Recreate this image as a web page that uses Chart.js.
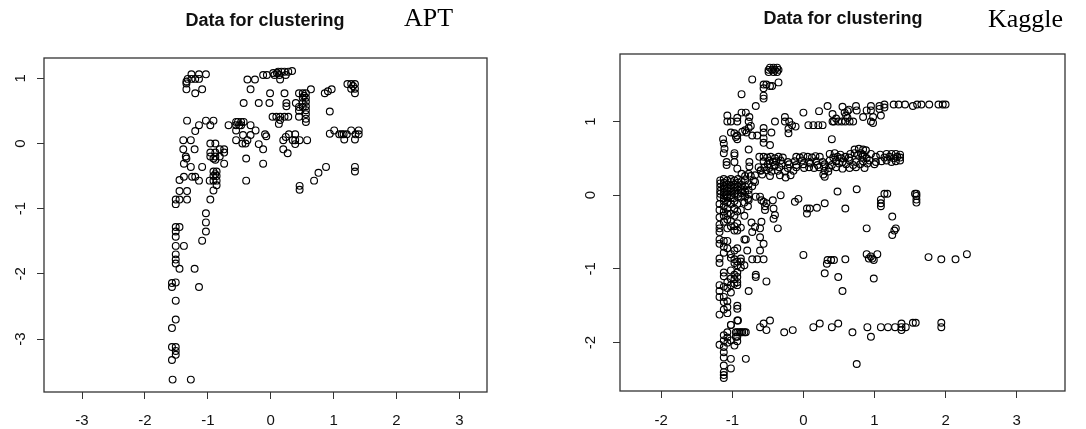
<!DOCTYPE html>
<html>
<head>
<meta charset="utf-8">
<script src="https://cdn.jsdelivr.net/npm/chart.js@4.4.1/dist/chart.umd.min.js"></script>
<style>
  html, body { margin: 0; padding: 0; background: #fff; }
  #wrap { position: relative; width: 1086px; height: 429px; overflow: hidden; }
  canvas { position: absolute; top: 0; }
  .title { position: absolute; font-family: "Liberation Sans", Arial, sans-serif; font-weight: bold; font-size: 18px; line-height: 1; color: #111; white-space: nowrap; transform: translateX(-50%); }
  .tag { position: absolute; font-family: "Liberation Serif", "Times New Roman", serif; font-size: 26px; line-height: 1; color: #000; white-space: nowrap; }
</style>
</head>
<body>
<div id="wrap">
  <canvas id="apt" width="543" height="429" style="left:0"></canvas>
  <canvas id="kaggle" width="543" height="429" style="left:543px"></canvas>
  <div class="title" style="left:265px;top:11px">Data for clustering</div>
  <div class="tag" style="left:404px;top:5px">APT</div>
  <div class="title" style="left:843px;top:9px">Data for clustering</div>
  <div class="tag" style="left:988px;top:6px">Kaggle</div>
</div>
<script>
// tick labels
const aptXTicks = [-3, -2, -1, 0, 1, 2, 3]
const aptYTicks = [-3, -2, -1, 0, 1]
const kaggleXTicks = [-2, -1, 0, 1, 2, 3]
const kaggleYTicks = [-2, -1, 0, 1]

// APT points [x, y]
const aptPoints = [
  [-1.26,1.06],[-1.14,1.06],[-1.03,1.06],[-1.32,0.99],[-1.26,0.99],[-1.20,0.99],[-1.14,0.99],[-1.34,0.95],[-1.34,0.92],[-1.34,0.83],[-1.20,0.77],[-1.09,0.83],
  [-0.37,0.98],[-0.25,0.98],[-0.32,0.83],[-0.12,1.05],[-0.06,1.05],[0.04,1.08],[0.10,1.08],[0.17,1.10],[0.22,1.10],[0.28,1.10],[0.34,1.11],[0.06,1.05],[0.14,1.05],[0.24,1.05],[0.15,0.98],[0.12,1.10],
  [-0.43,0.62],[-0.19,0.62],[-0.02,0.62],[-0.01,0.77],[0.22,0.77],[0.25,0.57],[0.25,0.62],[0.09,0.41],[0.15,0.41],[0.22,0.41],[0.28,0.41],[0.13,0.30],[0.03,0.41],[0.15,0.36],
  [0.40,0.62],[0.45,0.77],[0.51,0.77],[0.56,0.77],[0.64,0.83],[0.51,0.70],[0.56,0.70],[0.56,0.64],[0.56,0.57],[0.56,0.51],[0.56,0.45],[0.56,0.38],[0.56,0.33],[0.45,0.56],[0.45,0.50],[0.45,0.41],[0.51,0.56],[0.51,0.62],[0.53,0.73],
  [0.94,0.49],[0.86,0.77],[0.91,0.80],[0.97,0.83],[1.22,0.91],[1.28,0.91],[1.34,0.91],[1.28,0.84],[1.34,0.84],[1.34,0.77],[1.31,0.88],
  [0.94,0.15],[1.01,0.20],[1.09,0.14],[1.16,0.14],[1.21,0.14],[1.28,0.20],[1.35,0.14],[1.40,0.20],[1.40,0.14],[1.17,0.06],[1.34,0.06],[1.13,0.14],
  [1.34,-0.36],[1.34,-0.43],[0.88,-0.36],[0.76,-0.45],[0.69,-0.57],[0.46,-0.65],[0.46,-0.71],
  [0.20,0.05],[0.24,0.10],[0.29,0.14],[0.39,0.14],[0.35,0.05],[0.39,0.05],[0.46,0.05],[0.58,0.05],[0.39,-0.01],[0.20,-0.09],[0.27,-0.15],
  [-0.67,0.28],[-0.55,0.33],[-0.52,0.33],[-0.47,0.33],[-0.43,0.33],[-0.55,0.28],[-0.50,0.28],[-0.47,0.28],[-0.55,0.20],[-0.32,0.28],[-0.24,0.20],[-0.32,0.13],[-0.44,0.13],[-0.55,0.05],[-0.37,0.05],[-0.40,0.00],[-0.45,0.00],[-0.19,-0.01],[-0.12,-0.09],[-0.07,0.11],[-0.09,0.14],[-0.39,-0.23],[-0.12,-0.31],[-0.39,-0.57],
  [-1.33,0.35],[-1.20,0.19],[-1.14,0.28],[-1.03,0.35],[-0.96,0.28],[-0.91,0.35],
  [-1.39,0.05],[-1.27,0.05],[-1.39,-0.09],[-1.21,-0.09],[-1.35,-0.20],[-1.34,-0.23],
  [-0.96,0.00],[-0.88,0.00],[-0.96,-0.14],[-0.88,-0.14],[-0.81,-0.09],[-0.81,-0.20],[-0.74,-0.09],[-0.74,-0.14],[-0.96,-0.20],[-0.88,-0.20],[-0.88,-0.25],[-0.74,-0.31],[-0.91,-0.23],
  [-1.38,-0.31],[-1.27,-0.36],[-1.09,-0.36],[-1.45,-0.56],[-1.38,-0.51],[-1.25,-0.51],[-1.20,-0.51],[-1.14,-0.57],
  [-0.97,-0.57],[-0.91,-0.43],[-0.86,-0.43],[-0.91,-0.50],[-0.86,-0.50],[-0.91,-0.57],[-0.86,-0.57],[-0.86,-0.64],[-0.91,-0.72],[-0.88,-0.47],[-0.96,-0.86],
  [-1.45,-0.73],[-1.33,-0.73],[-1.51,-0.86],[-1.45,-0.86],[-1.33,-0.86],[-1.51,-0.93],
  [-1.03,-1.07],[-1.03,-1.21],[-1.03,-1.35],[-1.09,-1.49],
  [-1.51,-1.28],[-1.45,-1.28],[-1.51,-1.35],[-1.51,-1.43],[-1.51,-1.57],[-1.38,-1.57],[-1.51,-1.70],[-1.51,-1.78],[-1.51,-1.84],[-1.45,-1.92],[-1.21,-1.92],
  [-1.57,-2.14],[-1.51,-2.13],[-1.57,-2.20],[-1.14,-2.20],[-1.51,-2.41],[-1.51,-2.70],[-1.57,-2.83],
  [-1.57,-3.12],[-1.51,-3.12],[-1.51,-3.18],[-1.51,-3.24],[-1.57,-3.32],[-1.56,-3.62],[-1.27,-3.62]
]

// Kaggle points [x, y]
const kaggleTop = [
  [-0.49,1.70],[-0.44,1.70],[-0.40,1.70],[-0.35,1.70],[-0.47,1.73],[-0.42,1.73],[-0.37,1.73],[-0.49,1.67],[-0.42,1.67],[-0.37,1.67],
  [-0.72,1.57],[-0.35,1.53],[-0.56,1.50],[-0.52,1.50],[-0.47,1.48],[-0.44,1.48],[-0.56,1.45],[-0.56,1.35],[-0.56,1.31],[-0.87,1.37],[-0.67,1.21],
  [-1.07,1.08],[-1.07,1.00],[-1.02,1.00],[-0.93,1.05],[-0.93,1.00],[-0.87,1.12],[-0.81,1.12],[-0.76,1.06],[-0.77,1.00],[-0.74,0.94],[-0.77,0.91],[-0.82,0.88],[-0.80,0.85],
  [-1.02,0.85],[-0.97,0.84],[-0.93,0.81],[-0.95,0.79],[-0.93,0.76],[-1.13,0.76],[-1.12,0.70],[-1.11,0.63],[-0.86,0.86],[-0.72,0.81],[-0.65,0.81],[-0.56,0.91],[-0.56,0.85],
  [-0.56,0.77],[-0.56,0.71],[-0.45,0.85],[-0.47,0.68],[-0.40,1.00],[-0.26,1.06],[-0.26,1.00],[-0.20,1.00],[-0.16,0.95],[-0.21,0.90],[-0.21,0.84],[-0.11,0.93],[0.00,1.12],
  [0.07,0.95],[0.14,0.95],[0.21,0.95],[0.27,0.95],[0.22,1.14],[0.34,1.21],[0.40,0.76],[0.41,1.10],[0.41,1.00],[0.46,1.04],[0.43,1.00],[0.49,1.00],[0.54,1.00],[0.59,1.00],
  [0.65,1.00],[0.70,1.00],[0.55,1.20],[0.58,1.12],[0.62,1.14],[0.60,1.08],[0.64,1.16],[0.62,1.05],[0.74,1.21],[0.75,1.15],[0.84,1.06],[0.95,1.21],[0.95,1.15],[0.98,1.06],
  [0.89,1.15],[1.07,1.21],[1.07,1.17],[1.09,1.08],[0.95,1.00],[0.98,0.98],[1.14,1.23],[1.14,1.19],[1.27,1.23],[1.34,1.23],[1.43,1.23],[1.54,1.21],[1.60,1.23],[1.66,1.23],
  [1.77,1.23],[1.90,1.23],[1.96,1.23],[2.00,1.23]
]
const kaggleMiddle = [
  [0.37,0.56],[0.44,0.57],[0.52,0.55],[0.66,0.56],[0.72,0.57],[0.77,0.55],[0.81,0.57],[0.84,0.55],[0.95,0.56],[1.08,0.55],[1.17,0.56],[1.24,0.56],[1.30,0.56],[1.36,0.55],
  [0.72,0.62],[0.78,0.63],[0.84,0.62],[0.88,0.61],
  [-0.62,0.52],[-0.56,0.52],[-0.51,0.51],[-0.46,0.52],[-0.40,0.50],[-0.35,0.52],[-0.29,0.51],[-0.10,0.52],[-0.05,0.51],[0.00,0.53],[0.06,0.52],[0.12,0.51],[0.17,0.53],[0.23,0.52],
  [0.42,0.51],[0.48,0.52],[0.53,0.50],[0.59,0.52],[0.64,0.51],[0.83,0.52],[0.89,0.50],[1.02,0.52],[1.14,0.51],[1.21,0.52],[1.27,0.50],[1.32,0.52],[1.36,0.51],
  [-0.56,0.46],[-0.48,0.47],[-0.43,0.45],[-0.38,0.46],[-0.32,0.47],[-0.22,0.45],[-0.12,0.46],[-0.02,0.47],[0.08,0.45],[0.18,0.46],[0.27,0.45],[0.37,0.47],[0.46,0.46],[0.55,0.45],
  [0.65,0.47],[0.74,0.45],[0.84,0.46],[0.93,0.47],[1.02,0.45],[1.10,0.46],[1.17,0.47],[1.24,0.45],[1.30,0.46],[1.36,0.47],
  [-0.50,0.42],[-0.40,0.41],[-0.30,0.43],[-0.20,0.42],[-0.10,0.41],[0.00,0.42],[0.10,0.43],[0.20,0.41],[0.30,0.42],[0.40,0.41],[0.50,0.43],[0.60,0.42],[0.70,0.41],[0.80,0.42],[0.90,0.43],[1.00,0.42],
  [-0.55,0.38],[-0.48,0.37],[-0.41,0.39],[-0.34,0.38],[-0.22,0.37],[-0.10,0.38],[0.01,0.37],[0.08,0.38],[0.15,0.37],[0.22,0.38],[0.29,0.39],[0.36,0.37],[0.46,0.38],[0.55,0.36],[0.65,0.37],[0.74,0.38],[0.86,0.37],
  [-0.60,0.33],[-0.52,0.34],[-0.45,0.32],[-0.36,0.33],[-0.26,0.32],[-0.14,0.33],[0.30,0.33],[0.35,0.32],
  [-0.68,0.27],[-0.58,0.28],[-0.47,0.26],[-0.33,0.27],[-0.25,0.24],[-0.18,0.27],[0.28,0.28],[0.30,0.25],
  [-0.97,0.57],[-0.97,0.54],[-1.08,0.45],[-1.08,0.41],[-0.97,0.45],[-0.93,0.36],[-0.77,0.62],[-0.76,0.45],[-0.76,0.39],[-0.87,0.29],[-0.77,0.29],[-0.82,0.26],[-0.74,0.26],
  [-0.68,0.18],[-0.63,0.38],[-0.60,0.34],[-1.12,0.57],[-0.70,0.20],[-0.72,0.12]
]
const kaggleBlob = [
  [-1.17,0.20],[-1.17,0.16],[-1.17,0.11],[-1.17,0.06],[-1.17,0.02],[-1.17,-0.03],
  [-1.12,0.22],[-1.12,0.17],[-1.12,0.13],[-1.12,0.09],[-1.12,0.04],[-1.12,0.00],[-1.12,-0.04],
  [-1.07,0.20],[-1.07,0.15],[-1.07,0.10],[-1.07,0.06],[-1.07,0.01],[-1.07,-0.03],
  [-1.02,0.22],[-1.02,0.18],[-1.02,0.13],[-1.02,0.09],[-1.02,0.05],[-1.02,0.00],[-1.02,-0.04],
  [-0.97,0.20],[-0.97,0.15],[-0.97,0.11],[-0.97,0.06],[-0.97,0.02],
  [-0.92,0.22],[-0.92,0.17],[-0.92,0.12],[-0.92,0.07],[-0.92,0.02],[-0.92,-0.02],
  [-0.87,0.19],[-0.87,0.14],[-0.87,0.08],[-0.87,0.03],
  [-0.82,0.20],[-0.82,0.12],[-0.82,0.05],[-0.82,-0.02],
  [-0.77,0.15],[-0.77,0.07],[-0.77,0.01],[-0.77,-0.07]
]
const kaggleColumn = [
  [-1.18,-0.12],[-1.18,-0.20],[-1.18,-0.30],[-1.18,-0.40],[-1.18,-0.45],[-1.18,-0.50],[-1.18,-0.60],[-1.18,-0.66],[-1.18,-0.86],[-1.18,-0.92],[-1.18,-1.22],[-1.18,-1.30],[-1.18,-1.38],[-1.18,-1.62],[-1.18,-2.03],
  [-1.12,-0.08],[-1.12,-0.15],[-1.12,-0.22],[-1.12,-0.28],[-1.12,-0.36],[-1.12,-0.62],[-1.12,-0.70],[-1.12,-0.78],[-1.12,-1.05],[-1.12,-1.10],[-1.12,-1.24],[-1.12,-1.38],
  [-1.12,-1.45],[-1.12,-1.55],[-1.12,-1.90],[-1.12,-1.97],[-1.12,-2.06],[-1.12,-2.13],[-1.12,-2.20],[-1.12,-2.31],[-1.12,-2.40],[-1.12,-2.44],[-1.12,-2.48],
  [-1.07,-0.10],[-1.07,-0.18],[-1.07,-0.25],[-1.07,-0.33],[-1.07,-0.45],[-1.07,-0.62],[-1.07,-0.72],[-1.07,-1.18],[-1.07,-1.26],[-1.07,-1.44],[-1.07,-1.52],[-1.07,-1.60],[-1.07,-1.86],[-1.07,-1.93],[-1.07,-2.00],
  [-1.02,-0.12],[-1.02,-0.25],[-1.02,-0.35],[-1.02,-0.42],[-1.02,-0.80],[-1.02,-0.85],[-1.02,-1.02],[-1.02,-1.13],[-1.02,-1.22],[-1.02,-1.32],[-1.02,-1.76],[-1.02,-1.97],[-1.02,-2.22],[-1.02,-2.35],
  [-0.97,-0.08],[-0.97,-0.18],[-0.97,-0.28],[-0.97,-0.42],[-0.97,-0.48],[-0.97,-0.75],[-0.97,-0.87],[-0.97,-0.92],[-0.97,-1.08],[-0.97,-1.14],[-0.97,-1.20],[-0.97,-2.04],
  [-0.93,-0.12],[-0.93,-0.22],[-0.93,-0.38],[-0.93,-0.48],[-0.93,-0.72],[-0.93,-0.90],[-0.93,-0.95],[-0.93,-1.05],[-0.93,-1.11],[-0.93,-1.18],[-0.93,-1.22],[-0.93,-1.50],[-0.93,-1.54],[-0.93,-1.70],[-0.93,-1.86],[-0.93,-1.92],[-0.93,-1.98],
  [-0.88,-0.02],[-0.88,-0.20],[-0.88,-0.44],[-0.88,-0.86],[-0.88,-0.90],[-0.88,-0.98],[-0.88,-1.86],
  [-0.83,-0.10],[-0.83,-0.28],[-0.83,-0.60],[-0.83,-0.95],[-0.83,-1.86],[-0.78,-0.05],[-0.78,-0.15],[-0.81,-2.22]
]
const kaggleScatter = [
  [-0.67,-0.02],[-0.59,-0.07],[-0.54,-0.15],[-0.54,-0.20],[-0.43,-0.07],[-0.42,-0.18],[-0.32,0.00],[-0.42,-0.32],[-0.36,-0.45],[-0.12,-0.09],[-0.07,-0.05],[0.05,-0.18],
  [0.09,-0.18],[0.05,-0.25],[0.19,-0.17],[0.30,-0.11],[0.48,0.05],[0.59,-0.18],[0.75,0.08],[0.89,-0.45],[1.09,-0.06],[1.09,-0.11],[1.09,-0.15],[1.14,0.02],[1.18,0.02],
  [1.25,-0.29],[1.30,-0.45],[1.28,-0.48],[1.25,-0.54],[1.57,0.02],[1.59,0.02],[1.59,-0.01],[1.59,-0.06],[1.59,-0.10],
  [-0.61,-0.02],[-0.56,-0.09],[-0.52,-0.11],[-0.40,-0.27],[-0.59,-0.36],[-0.61,-0.45],[-0.68,-0.43],[-0.72,-0.50],[-0.61,-0.57],[-0.56,-0.66],[-0.81,-0.60],
  [-0.72,-0.87],[-0.65,-0.87],[-0.56,-0.87],[-0.61,-0.75],[-0.79,-0.75],[-0.73,-0.37],
  [0.00,-0.81],[0.34,-0.88],[0.39,-0.88],[0.43,-0.88],[0.33,-0.93],[0.59,-0.87],[0.89,-0.80],[0.92,-0.86],[0.95,-0.83],[0.97,-0.86],[0.99,-0.88],[1.04,-0.80],
  [1.76,-0.84],[1.94,-0.87],[2.14,-0.87],[2.30,-0.80],
  [0.30,-1.06],[0.49,-1.11],[0.99,-1.13],[0.55,-1.30],[-0.67,-1.08],[-0.67,-1.11],[-0.52,-1.17],[-0.77,-1.30],
  [-0.61,-1.79],[-0.56,-1.74],[-0.47,-1.70],[-0.52,-1.83],[-0.27,-1.86],[-0.15,-1.83],[0.14,-1.79],[0.23,-1.74],[0.40,-1.79],[0.49,-1.74],[0.69,-1.86],[0.90,-1.79],
  [0.95,-1.92],[1.09,-1.79],[1.19,-1.79],[1.29,-1.79],[1.38,-1.79],[1.44,-1.79],[1.38,-1.74],[1.38,-1.83],[1.54,-1.73],[1.58,-1.73],[1.94,-1.73],[1.94,-1.79],[0.75,-2.29],
  [-0.95,-1.86],[-0.90,-1.86],[-0.86,-1.86],[-0.81,-1.86],[-0.95,-1.92],[-0.92,-1.70],[-1.02,-1.76]
]
const kagglePoints = kaggleTop.concat(kaggleMiddle, kaggleBlob, kaggleColumn, kaggleScatter)

// frame round the plot area, as R draws it
const boxPlugin = {
  id: "box",
  afterDraw(chart) {
    const { ctx, chartArea: a } = chart
    ctx.save()
    ctx.strokeStyle = "#333"
    ctx.lineWidth = 1.3
    ctx.strokeRect(a.left, a.top, a.right - a.left, a.bottom - a.top)
    ctx.restore()
  },
}

function makeChart(id, points, xTicks, yTicks, o) {
  const font = { family: "'Liberation Sans', Arial, sans-serif", size: 15 }
  const grid = { display: true, drawOnChartArea: false, drawTicks: true, tickLength: 7, color: "#333", lineWidth: 1 }
  return new Chart(document.getElementById(id), {
    type: "scatter",
    data: {
      datasets: [{
        data: points.map((p) => ({ x: p[0], y: p[1] })),
        pointStyle: "circle",
        pointRadius: 3.4,
        pointBorderWidth: 1.15,
        borderColor: "#000",
        backgroundColor: "rgba(0,0,0,0)",
      }],
    },
    options: {
      responsive: false,
      animation: false,
      devicePixelRatio: 1,
      layout: { padding: { left: 0, top: o.top, right: o.right, bottom: 0 } },
      plugins: { legend: { display: false }, tooltip: { enabled: false } },
      scales: {
        x: {
          type: "linear", min: o.xMin, max: o.xMax,
          grid, border: { display: false },
          afterBuildTicks: (s) => { s.ticks = xTicks.map((v) => ({ value: v })) },
          afterFit: (s) => { s.height = o.xAxisH },
          ticks: { font, color: "#111", padding: o.xPad, maxRotation: 0, callback: (v) => String(v) },
        },
        y: {
          type: "linear", min: o.yMin, max: o.yMax,
          grid, border: { display: false },
          afterBuildTicks: (s) => { s.ticks = yTicks.map((v) => ({ value: v })) },
          afterFit: (s) => { s.width = o.yAxisW },
          ticks: { font, color: "#111", padding: o.yPad, minRotation: 90, maxRotation: 90, crossAlign: "center", callback: (v) => String(v) },
        },
      },
    },
    plugins: [boxPlugin],
  })
}

makeChart("apt", aptPoints, aptXTicks, aptYTicks, {
  xMin: -3.605, xMax: 3.44, yMin: -3.81, yMax: 1.31,
  top: 58, right: 56, xAxisH: 37, yAxisW: 44, xPad: 12.7, yPad: 9.6,
})
makeChart("kaggle", kagglePoints, kaggleXTicks, kaggleYTicks, {
  xMin: -2.58, xMax: 3.68, yMin: -2.656, yMax: 1.915,
  top: 54, right: 21, xAxisH: 38, yAxisW: 77, xPad: 13.7, yPad: 15.3,
})
</script>
</body>
</html>
